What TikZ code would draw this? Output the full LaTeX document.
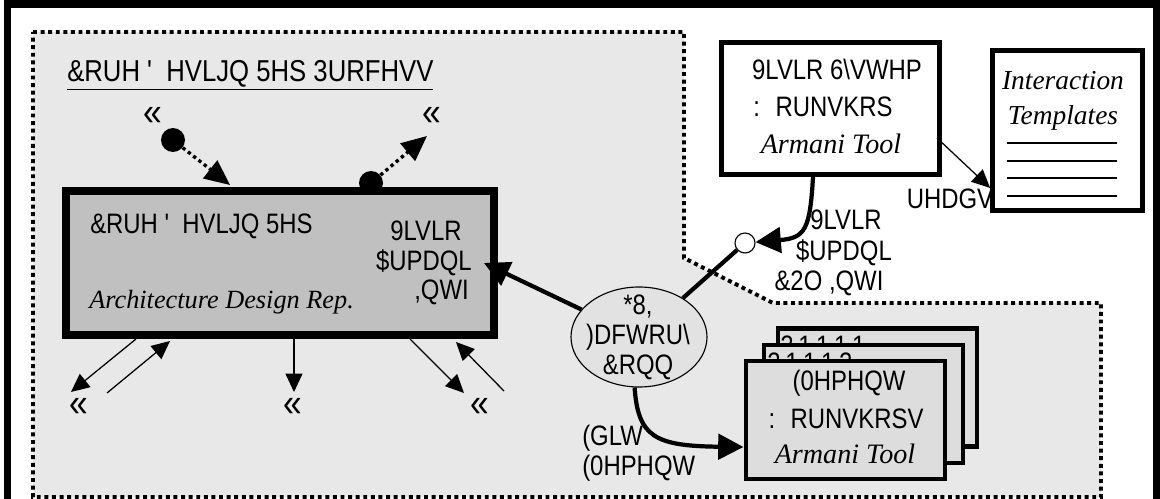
\documentclass[tikz,border=0pt]{standalone}
\usepackage{fontspec}
\newfontfamily\agency[FakeStretch=0.85]{Liberation Sans}
\newfontfamily\toolfont{Liberation Serif}
\usetikzlibrary{arrows.meta,shapes.geometric,positioning}
\definecolor{regiongray}{RGB}{232,232,232}
\definecolor{boxgray}{RGB}{192,192,192}
\definecolor{ovalgray}{RGB}{226,226,226}
\definecolor{wingray}{RGB}{221,221,221}
\newcommand{\pxu}{0.025cm}
\begin{document}
\begin{tikzpicture}[x=0.025cm, y=-0.025cm,
  codetxt/.style={font=\agency\fontsize{20}{21.3}\selectfont, inner sep=0pt},
  tooltxt/.style={font=\toolfont\itshape\fontsize{20}{21}\selectfont, inner sep=0pt},
  moremark/.style={font=\agency\fontsize{28}{28}\selectfont, inner sep=0pt},
  thinarrow/.style={line width=0.9pt, -{Triangle[length=13pt,width=12pt]}},
  thickarrow/.style={line width=3pt, -{Triangle[length=18pt,width=18pt]}},
  dotarrow/.style={line width=2.4pt, dash pattern=on 2.4pt off 2.4pt, -{Triangle[length=18pt,width=16pt]}},
  portdot/.style={circle, fill=black, minimum size=24*\pxu, inner sep=0pt},
  winbox/.style={draw, line width=2.85pt, fill=wingray, minimum width=199*\pxu, minimum height=118*\pxu}]
\useasboundingbox (0,0) rectangle (1160,499);
\clip (0,0) rectangle (1160,499);
% outer frame, open at the bottom
\draw[line width=5.4pt] (7.5,540) -- (7.5,4) -- (1156.5,4) -- (1156.5,540);
% process region
\draw[fill=regiongray, line width=2.8pt, dash pattern=on 2.8pt off 2.6pt]
  (33,32) -- (684,32) -- (684,258) -- (773,303) -- (1101,303) -- (1101,497) -- (33,497) -- cycle;
\node[codetxt, font=\agency\fontsize{21.5}{22}\selectfont, anchor=base west] (procTitle) at (67,82) {\underline{\&RUH ' \ HVLJQ 5HS 3URFHVV}};
% ports on top of the rep box
\node[portdot] (portIn) at (173,140) {};
\node[moremark] (moreIn) at (153,116) {«};
\coordinate (portInTip) at (230,185);
\draw[dotarrow] (portIn) -- (portInTip);
\node[portdot] (portOut) at (371,183) {};
\node[moremark] (moreOut) at (432,116) {«};
\coordinate (portOutTip) at (427,136);
\draw[dotarrow] (portOut) -- (portOutTip);
% core design rep
\node[draw, line width=5.7pt, fill=boxgray, minimum width=428*\pxu, minimum height=144*\pxu] (coreRep) at (280,263) {};
\node[codetxt, anchor=base west] (coreName) at (90,233) {\&RUH ' \ HVLJQ 5HS};
\node[tooltxt, font=\toolfont\itshape\fontsize{18.7}{21}\selectfont, anchor=base west] (coreTool) at (89,308) {Architecture Design Rep.};
\node[codetxt, anchor=base east] (coreIntfA) at (462,240) {9LVLR};
\node[codetxt, anchor=base east] (coreIntfB) at (472,270) {\$UPDQL};
\node[codetxt, anchor=base east] (coreIntfC) at (469,299) {,QWI};
% arrows below the rep box
\coordinate (outA) at (136,339);
\coordinate (endA) at (71,392);
\coordinate (startB) at (107,393);
\coordinate (inB) at (170,341);
\coordinate (outC) at (294,339);
\coordinate (endC) at (294,392);
\coordinate (outD) at (410,339);
\coordinate (endD) at (464,393);
\coordinate (startE) at (504,391);
\coordinate (inE) at (456,342);
\draw[thinarrow] (outA) -- (endA);
\draw[thinarrow] (startB) -- (inB);
\draw[thinarrow] (outC) -- (endC);
\draw[thinarrow] (outD) -- (endD);
\draw[thinarrow] (startE) -- (inE);
\node[moremark] (moreA) at (79,407) {«};
\node[moremark] (moreC) at (293,407) {«};
\node[moremark] (moreE) at (480,407) {«};
% gui factor connector
\node[ellipse, draw, line width=0.8pt, fill=ovalgray, minimum width=136*\pxu, minimum height=100*\pxu] (guiConn) at (639,337) {};
\node[codetxt, align=center, anchor=north] (guiConnTxt) at (638,295) {*8,\\)DFWRU\textbackslash\\\&RQQ};
\coordinate (coreIn) at (484,263);
\draw[thickarrow] (guiConn) -- (coreIn);
\node[circle, draw, line width=0.8pt, fill=white, minimum size=20*\pxu, inner sep=0pt] (cmlPort) at (745,243) {};
\draw[line width=3pt] (guiConn) -- (cmlPort);
% visio workshop
\node[draw, line width=3.3pt, fill=white, minimum width=218*\pxu, minimum height=132*\pxu] (visioWs) at (830.5,108.5) {};
\node[codetxt, anchor=base] (visioName) at (837,80) {9LVLR 6\textbackslash VWHP};
\node[codetxt, anchor=base] (visioSub) at (823,117) {: \ RUNVKRS};
\node[tooltxt, anchor=base] (visioTool) at (831,153) {Armani Tool};
\coordinate (visioOut) at (813,177);
\draw[thickarrow] (visioOut) .. controls (810,230) and (805,238) .. (cmlPort);
\node[codetxt, anchor=base] (visioLblA) at (846,230) {9LVLR};
\node[codetxt, anchor=base] (visioLblB) at (844,260) {\$UPDQL};
\node[codetxt, anchor=base] (visioLblC) at (829,290) {\&2O ,QWI};
% interaction templates
\node[draw, line width=3.3pt, fill=white, minimum width=150*\pxu, minimum height=160*\pxu] (intTpl) at (1067.5,130.5) {};
\node[tooltxt, font=\toolfont\itshape\fontsize{19.5}{21}\selectfont, anchor=base] (intTplA) at (1063,90) {Interaction};
\node[tooltxt, font=\toolfont\itshape\fontsize{19.5}{21}\selectfont, anchor=base] (intTplB) at (1063,125) {Templates};
\foreach \ly in {143,161,178,196}
  \draw[line width=1.1pt] (1007,\ly) -- (1117,\ly);
\coordinate (readOut) at (937,138);
\coordinate (readIn) at (intTpl.west |- 0,188);
\draw[thinarrow] (readOut) -- (readIn);
\node[codetxt, anchor=base] (readLbl) at (950,208) {UHDGV};
% element workshops, stacked
\node[winbox] (elemWs1) at (877.5,387.5) {};
\node[codetxt, anchor=north west] (elemWs1Txt) at (780,336) {2\,1\,1\,1\,1};
\node[winbox] (elemWs2) at (863.5,404) {};
\node[codetxt, anchor=north west] (elemWs2Txt) at (767,353) {2\,1\,1\,1\,2};
\node[winbox] (elemWs3) at (845,420) {};
\node[codetxt, anchor=base] (elemName) at (849,390) {(0HPHQW};
\node[codetxt, anchor=base] (elemSub) at (846,428) {: \ RUNVKRSV};
\node[tooltxt, anchor=base] (elemTool) at (845,463) {Armani Tool};
\coordinate (editIn) at (elemWs3.west |- 0,447);
\draw[thickarrow] (guiConn.265) .. controls (638,437) and (655,446) .. (editIn);
\node[codetxt, align=left, anchor=north west] (editLbl) at (582,425) {(GLW\\(0HPHQW};
\end{tikzpicture}
\end{document}
